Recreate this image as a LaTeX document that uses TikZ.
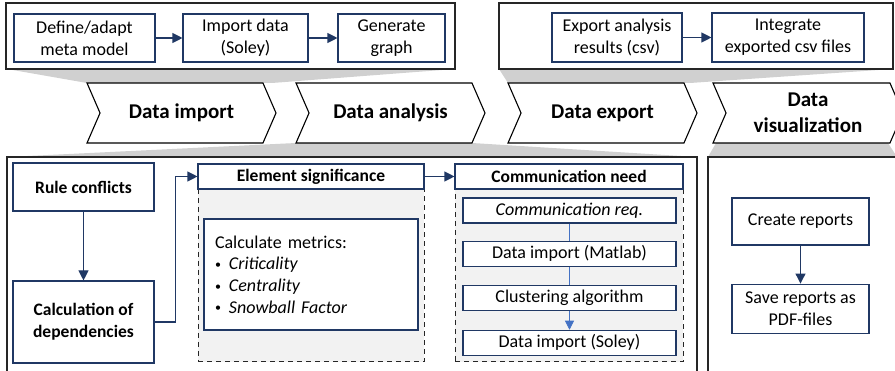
\documentclass[tikz,border=0pt]{standalone}
\usepackage{fontspec}
\setmainfont{Carlito}
\usepackage{tikz}
\usetikzlibrary{shapes.symbols, arrows.meta, positioning}
\definecolor{navy}{HTML}{203864}
\definecolor{lightnavy}{HTML}{4472C4}
\definecolor{funnelgray}{HTML}{D0D0D0}
\definecolor{areagray}{HTML}{F2F2F2}
\newcommand{\metricdot}{\raisebox{1.5pt}{\fontsize{12}{12}\selectfont\textbullet}\hspace{8pt}}
\tikzstyle{stepbox} = [rectangle, draw=navy, line width=1.1pt, fill=white, align=center, inner sep=2pt, font=\fontsize{18}{21.7}\selectfont]
\tikzstyle{headbox} = [stepbox, font=\fontsize{17.5}{21.7}\selectfont\bfseries]
\tikzstyle{phase} = [signal, signal from=west, signal to=east, signal pointer angle=133, draw=black, line width=1.1pt, fill=white, align=center, inner sep=0pt, font=\fontsize{21}{26.5}\selectfont\bfseries]
\tikzstyle{arrow} = [navy, line width=1.1pt, -{Triangle[length=10pt,width=10pt]}]
\tikzset{
  panel/.style={draw=black!85, line width=1.2pt, fill=white},
  funnel/.style={fill=funnelgray, draw=none},
  area/.style={
    rectangle,
    draw=black!85,
    line width=1pt,
    dash pattern=on 5pt off 4pt,
    fill=areagray
    },
  link/.style={lightnavy, line width=0.8pt},
}

\begin{document}
\begin{tikzpicture}[x=1pt, y=-1pt]
\clip (0,0) rectangle (895,371);

% funnels behind the phases
\fill [funnel] (7,69) -- (455,69) -- (272,83) -- (87,83) -- cycle;
\fill [funnel] (499,69) -- (893,69) -- (690,83) -- (508,83) -- cycle;
\fill [funnel] (296,143) -- (472,143) -- (697,157) -- (7,157) -- cycle;
\fill [funnel] (716,143) -- (888,143) -- (897,157) -- (708,157) -- cycle;

\draw [panel] (6,3) rectangle (455,69);
\draw [panel] (499,3) rectangle (893,69);
\draw [panel] (7,157) rectangle (697,380);
\draw [panel] (708,157) rectangle (897,380);

% phases
\node (pimport) [phase, minimum width=189pt, minimum height=60pt] at (181.5,113) {Data import};
\node (panalysis) [phase, minimum width=189pt, minimum height=60pt] at (390.5,113) {Data analysis};
\node (pexport) [phase, minimum width=189pt, minimum height=60pt] at (602.5,113) {Data export};
\node (pvis) [phase, minimum width=190pt, minimum height=60pt] at (808,113) {Data\\visualization};

% data import
\node (meta) [stepbox, minimum width=141pt, minimum height=48pt] at (84.5,38) {Define/adapt\\meta model};
\node (soley) [stepbox, minimum width=125pt, minimum height=48pt] at (245.5,38) {Import data\\(Soley)};
\node (graph) [stepbox, minimum width=107pt, minimum height=48pt] at (391.5,38) {Generate\\graph};
\draw [arrow] (meta) -- (soley);
\draw [arrow] (soley) -- (graph);

% data export
\node (csvout) [stepbox, minimum width=130pt, minimum height=49pt] at (617,37.5) {Export analysis\\results (csv)};
\node (csvin) [stepbox, minimum width=152pt, minimum height=49pt] at (788,37.5) {Integrate\\exported csv files};
\draw [arrow] (csvout) -- (csvin);

% data analysis
\node (rules) [headbox, minimum width=141pt, minimum height=48pt] at (83.5,187) {Rule conflicts};
\node (deps) [headbox, minimum width=141pt, minimum height=82pt] at (83.5,322) {Calculation of\\dependencies};

\node (sigarea) [area, minimum width=226pt, minimum height=198pt] at (311,263) {};
\node (sig) [headbox, minimum width=226pt, minimum height=25pt] at (311,176.5) {Element significance};
\node (metrics) [stepbox, align=left, inner xsep=11pt, text width=192pt, minimum height=111pt] at (311,274.5)
  {Calculate metrics:\\
   \metricdot\textit{Criticality}\\
   \metricdot\textit{Centrality}\\
   \metricdot\textit{Snowball Factor}};

\node (commarea) [area, minimum width=228pt, minimum height=198pt] at (569,263) {};
\node (comm) [headbox, minimum width=228pt, minimum height=25pt] at (569,176.5) {Communication need};
\node (req) [stepbox, minimum width=213pt, minimum height=25pt] at (569.5,210.5) {\textit{Communication req.}};
\node (matlab) [stepbox, minimum width=213pt, minimum height=25pt, below=17pt of req] {Data import (Matlab)};
\node (cluster) [stepbox, minimum width=213pt, minimum height=25pt, below=18pt of matlab] {Clustering algorithm};
\node (import) [stepbox, minimum width=213pt, minimum height=25pt, below=19pt of cluster] {Data import (Soley)};

\draw [arrow] (rules) -- (deps);
\draw [arrow] (deps.east) -- ++(21,0) |- (sig.west);
\draw [arrow] (sig) -- (comm);
\draw [link] (req) -- (matlab);
\draw [link] (matlab) -- (cluster);
\draw [link, -{Triangle[length=9pt,width=9pt]}] (cluster) -- (import);

% data visualization
\node (reports) [stepbox, minimum width=137pt, minimum height=47pt] at (800.5,221.5) {Create reports};
\node (pdf) [stepbox, minimum width=137pt, minimum height=49pt, below=38pt of reports] {Save reports as\\PDF-files};
\draw [arrow] (reports) -- (pdf);

\end{tikzpicture}
\end{document}
